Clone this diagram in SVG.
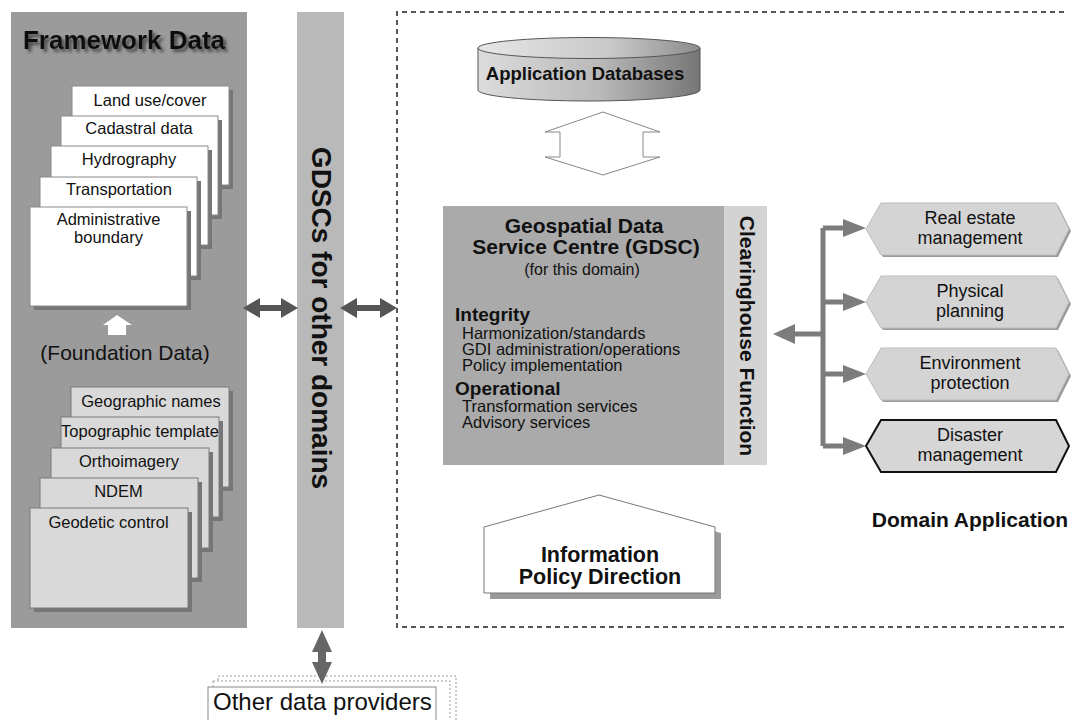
<svg xmlns="http://www.w3.org/2000/svg" width="1074" height="720" viewBox="0 0 1074 720">
  <style>
    text { font-family: "Liberation Sans", Arial, sans-serif; fill: #111; }
    .card-w { fill: #ffffff; stroke: #8a8a8a; stroke-width: 1; }
    .card-g { fill: #d9d9d9; stroke: #7a7a7a; stroke-width: 1; }
    .card-shadow { fill: #767676; }
    .lbl { font-size: 16.5px; text-anchor: middle; }
    .item { font-size: 16.5px; }
    .head { font-size: 19px; font-weight: bold; }
    .hex { fill: #d4d4d4; stroke: #bdbdbd; stroke-width: 1; }
    .hex-shadow { fill: #9a9a9a; }
    .app { font-size: 18px; text-anchor: middle; }
    .dbl { fill: #555555; }
    .tree { stroke: #7c7c7c; stroke-width: 5; fill: none; }
    .tree-head { fill: #7c7c7c; }
  </style>
  <defs>
    <filter id="titleShadow" x="-10%" y="-30%" width="130%" height="170%">
      <feGaussianBlur in="SourceAlpha" stdDeviation="1.6" result="b"/>
      <feOffset in="b" dx="3" dy="3" result="o"/>
      <feFlood flood-color="#444444" flood-opacity="0.9"/>
      <feComposite in2="o" operator="in" result="s"/>
      <feMerge><feMergeNode in="s"/><feMergeNode in="SourceGraphic"/></feMerge>
    </filter>
    <linearGradient id="cylBody" x1="0" y1="0" x2="1" y2="0">
      <stop offset="0" stop-color="#dcdcdc"/>
      <stop offset="0.55" stop-color="#b9b9b9"/>
      <stop offset="1" stop-color="#767676"/>
    </linearGradient>
    <linearGradient id="cylTop" x1="0" y1="0" x2="1" y2="0">
      <stop offset="0" stop-color="#e6e6e6"/>
      <stop offset="0.6" stop-color="#c8c8c8"/>
      <stop offset="1" stop-color="#8c8c8c"/>
    </linearGradient>
  </defs>

  <rect width="1074" height="720" fill="#ffffff"/>

  <!-- Framework Data panel -->
  <g id="framework-data">
    <rect x="11" y="12" width="236" height="616" fill="#9b9b9b"/>
    <text x="23" y="49" font-size="25px" font-weight="bold" filter="url(#titleShadow)" textLength="202" lengthAdjust="spacingAndGlyphs">Framework Data</text>
  </g>

  <!-- thematic framework layers -->
  <g id="land-use">
    <rect class="card-shadow" x="76" y="90" width="157" height="99"/>
    <rect class="card-w" x="72" y="86" width="157" height="99"/>
    <text class="lbl" x="150" y="106">Land use/cover</text>
  </g>
  <g id="cadastral">
    <rect class="card-shadow" x="65" y="120" width="157" height="99"/>
    <rect class="card-w" x="61" y="116" width="157" height="99"/>
    <text class="lbl" x="139" y="134">Cadastral data</text>
  </g>
  <g id="hydrography">
    <rect class="card-shadow" x="55" y="150" width="157" height="99"/>
    <rect class="card-w" x="51" y="146" width="157" height="99"/>
    <text class="lbl" x="129" y="165">Hydrography</text>
  </g>
  <g id="transportation">
    <rect class="card-shadow" x="44" y="181" width="157" height="99"/>
    <rect class="card-w" x="40" y="177" width="157" height="99"/>
    <text class="lbl" x="119" y="195">Transportation</text>
  </g>
  <g id="admin-boundary">
    <rect class="card-shadow" x="34" y="211" width="157" height="99"/>
    <rect class="card-w" x="30" y="207" width="157" height="99"/>
    <text class="lbl" x="108.5" y="225">Administrative</text>
    <text class="lbl" x="108.5" y="243">boundary</text>
  </g>

  <!-- foundation layers -->
  <g id="foundation-label">
    <text x="125" y="360" font-size="21px" text-anchor="middle">(Foundation Data)</text>
  </g>
  <g id="geographic-names">
    <rect class="card-shadow" x="75" y="391" width="158" height="100"/>
    <rect class="card-g" x="71" y="387" width="158" height="100"/>
    <text class="lbl" x="151" y="407">Geographic names</text>
  </g>
  <g id="topographic-template">
    <rect class="card-shadow" x="65" y="421" width="158" height="100"/>
    <rect class="card-g" x="61" y="417" width="158" height="100"/>
    <text class="lbl" x="140" y="437">Topographic template</text>
  </g>
  <g id="orthoimagery">
    <rect class="card-shadow" x="55" y="452" width="158" height="100"/>
    <rect class="card-g" x="51" y="448" width="158" height="100"/>
    <text class="lbl" x="129" y="467">Orthoimagery</text>
  </g>
  <g id="ndem">
    <rect class="card-shadow" x="44" y="482" width="158" height="100"/>
    <rect class="card-g" x="40" y="478" width="158" height="100"/>
    <text class="lbl" x="118.5" y="497">NDEM</text>
  </g>
  <g id="geodetic-control">
    <rect class="card-shadow" x="34" y="512" width="158" height="100"/>
    <rect class="card-g" x="30" y="508" width="158" height="100"/>
    <text class="lbl" x="108.5" y="528">Geodetic control</text>
  </g>

  <!-- GDSCs bar -->
  <g id="other-gdscs">
    <rect x="297" y="12" width="47" height="616" fill="#b9b9b9"/>
    <text x="312" y="318" font-size="28px" font-weight="bold" text-anchor="middle" transform="rotate(90 312 318)">GDSCs for other domains</text>
  </g>

  <!-- domain boundary -->
  <g id="domain-boundary">
    <path d="M1064,12 H397 V627 H1064" fill="none" stroke="#555" stroke-width="2" stroke-dasharray="5 4"/>
  </g>

  <!-- application databases -->
  <g id="application-databases">
    <path d="M478,48 V90 A111,11 0 0 0 700,90 V48 Z" fill="url(#cylBody)" stroke="#555" stroke-width="1"/>
    <ellipse cx="589" cy="48" rx="111" ry="10.5" fill="url(#cylTop)" stroke="#555" stroke-width="1"/>
    <text x="585" y="80" font-size="18.5px" font-weight="bold" text-anchor="middle">Application Databases</text>
  </g>

  <!-- GDSC for this domain -->
  <g id="gdsc">
    <rect x="443" y="206" width="281" height="259" fill="#aaaaaa"/>
    <text x="584" y="233" font-size="21px" font-weight="bold" text-anchor="middle">Geospatial Data</text>
    <text x="586" y="254" font-size="21px" font-weight="bold" text-anchor="middle">Service Centre (GDSC)</text>
    <text x="582" y="275" font-size="16px" text-anchor="middle">(for this domain)</text>
    <text class="head" x="455" y="321">Integrity</text>
    <text class="item" x="462" y="339">Harmonization/standards</text>
    <text class="item" x="462" y="355">GDI administration/operations</text>
    <text class="item" x="462" y="371">Policy implementation</text>
    <text class="head" x="455" y="395">Operational</text>
    <text class="item" x="462" y="412">Transformation services</text>
    <text class="item" x="462" y="428">Advisory services</text>
  </g>
  <g id="clearinghouse">
    <rect x="724" y="206" width="43" height="259" fill="#d3d3d3"/>
    <text x="740" y="336" font-size="21px" font-weight="bold" text-anchor="middle" transform="rotate(90 740 336)">Clearinghouse Function</text>
  </g>

  <!-- information policy direction -->
  <g id="policy-direction">
    <path d="M605,501 L721,533 V599 H490 V533 Z" fill="#9a9a9a"/>
    <path d="M599,495 L715,527 V593 H484 V527 Z" fill="#ffffff" stroke="#777" stroke-width="1"/>
    <text x="600" y="562" font-size="21.5px" font-weight="bold" text-anchor="middle">Information</text>
    <text x="600" y="584" font-size="21.5px" font-weight="bold" text-anchor="middle">Policy Direction</text>
  </g>

  <!-- domain applications -->
  <g id="real-estate">
    <path class="hex-shadow" d="M868,231 L883,205 H1058 L1071,231 L1058,257 H883 Z"/>
    <path class="hex" d="M866,229 L881,203 H1056 L1069,229 L1056,255 H881 Z"/>
    <text class="app" x="970" y="224">Real estate</text>
    <text class="app" x="970" y="244">management</text>
  </g>
  <g id="physical-planning">
    <path class="hex-shadow" d="M868,304 L883,278 H1058 L1071,304 L1058,330 H883 Z"/>
    <path class="hex" d="M866,302 L881,276 H1056 L1069,302 L1056,328 H881 Z"/>
    <text class="app" x="970" y="297">Physical</text>
    <text class="app" x="970" y="317">planning</text>
  </g>
  <g id="environment-protection">
    <path class="hex-shadow" d="M868,376 L883,350 H1058 L1071,376 L1058,402 H883 Z"/>
    <path class="hex" d="M866,374 L881,348 H1056 L1069,374 L1056,400 H881 Z"/>
    <text class="app" x="970" y="369">Environment</text>
    <text class="app" x="970" y="389">protection</text>
  </g>
  <g id="disaster-management">
    <path d="M866,446 L881,420 H1056 L1069,446 L1056,472 H881 Z" fill="#d6d6d6" stroke="#111" stroke-width="2"/>
    <text class="app" x="970" y="441">Disaster</text>
    <text class="app" x="970" y="461">management</text>
  </g>
  <g id="domain-application-label">
    <text x="970" y="527" font-size="21px" font-weight="bold" text-anchor="middle">Domain Application</text>
  </g>

  <!-- other data providers -->
  <g id="other-providers">
    <rect x="218" y="676" width="238" height="60" fill="none" stroke="#999" stroke-width="1" stroke-dasharray="2 2"/>
    <rect x="213" y="681" width="237" height="60" fill="#fff" stroke="#999" stroke-width="1" stroke-dasharray="2 2"/>
    <rect x="208" y="687" width="228" height="50" fill="#fff" stroke="#888" stroke-width="1"/>
    <text x="213" y="710" font-size="24px">Other data providers</text>
  </g>

  <!-- connectors -->
  <g id="connectors">
    <!-- foundation feeds the thematic layers -->
    <polygon points="117,315 132,325 126,325 126,335 108,335 108,325 103,325" fill="#ffffff"/>
    <!-- framework data <-> other GDSCs -->
    <polygon class="dbl" points="243,308 260,298 260,305 281,305 281,298 298,308 281,318 281,311 260,311 260,318"/>
    <!-- other GDSCs <-> this domain -->
    <polygon class="dbl" points="340,308 357,298 357,305 380,305 380,298 397,308 380,318 380,311 357,311 357,318"/>
    <!-- other GDSCs <-> other data providers -->
    <polygon points="322,630 332,652 326,652 326,662 332,662 322,684 312,662 318,662 318,652 312,652" fill="#666666"/>
    <!-- application databases <-> GDSC -->
    <polygon points="603,112 660,132 643,132 643,157 660,157 603,175 545,157 560,157 560,132 545,132" fill="#ffffff" stroke="#888" stroke-width="1"/>
    <!-- clearinghouse to domain applications -->
    <path class="tree" d="M823,228 V446 M823,228 H845 M823,302 H845 M823,374 H845 M823,446 H845 M823,334 H793"/>
    <polygon class="tree-head" points="843,219 866,228 843,237"/>
    <polygon class="tree-head" points="843,293 866,302 843,311"/>
    <polygon class="tree-head" points="843,365 866,374 843,383"/>
    <polygon class="tree-head" points="843,437 866,446 843,455"/>
    <polygon class="tree-head" points="795,324 773,334 795,344"/>
  </g>
</svg>
